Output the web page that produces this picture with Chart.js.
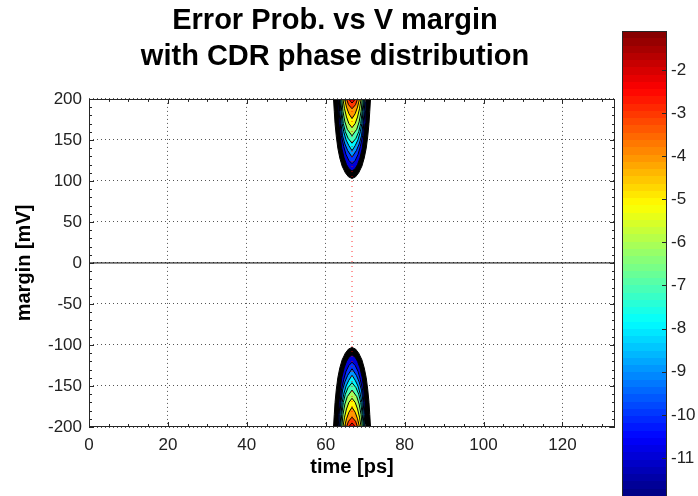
<!DOCTYPE html>
<html>
<head>
<meta charset="utf-8">
<script src="https://cdn.jsdelivr.net/npm/chart.js@4.4.0/dist/chart.umd.min.js"></script>
<style>
  html, body { margin: 0; padding: 0; background: #fff; }
  #wrap { position: relative; width: 698px; height: 496px; overflow: hidden; background: #fff; }
  #main { position: absolute; left: 0; top: 0; }
  #cbar { position: absolute; left: 600px; top: 0; }
</style>
</head>
<body>
<div id="wrap">
  <canvas id="main" width="698" height="496"></canvas>
  <canvas id="cbar" width="98" height="496"></canvas>
</div>
<script>
// axes
const titleLines = ['Error Prob. vs V margin', 'with CDR phase distribution'];
const timeTicks = [0, 20, 40, 60, 80, 100, 120];
const marginTicks = [-200, -150, -100, -50, 0, 50, 100, 150, 200];
const timeRange = [0, 133.33];
const marginRange = [-200, 200];
const cdrPhase = 66.67; // ps, CDR sampling phase (dotted red line)

// colorbar, log10 of error probability
const cbarTicks = [-2, -3, -4, -5, -6, -7, -8, -9, -10, -11];
const cbarRange = [-11.88, -1.1];

// contour levels; -12 is the dense black outline
const contourLevels = [-12, -11, -10, -9, -8, -7, -6, -5, -4, -3, -2];
// upper lobe: [margin mV, half width ps] from 200 mV down to the tip
// (lower lobe is the same at negative margin)
const contourProfiles = [
  [[200, 4.7], [185, 4.5], [170, 4.3], [155, 4.0], [140, 3.6], [128, 3.1], [118, 2.5], [110, 1.7], [105, 0.9], [103, 0]],
  [[200, 3.7], [185, 3.5], [170, 3.3], [155, 3.0], [140, 2.6], [128, 2.0], [120, 1.4], [115, 0.8], [112, 0]],
  [[200, 3.5], [185, 3.3], [170, 3.0], [155, 2.7], [142, 2.1], [132, 1.5], [125, 0.8], [121, 0]],
  [[200, 3.3], [185, 3.1], [170, 2.8], [155, 2.4], [145, 1.8], [137, 1.1], [129, 0]],
  [[200, 3.1], [185, 2.8], [170, 2.5], [160, 2.1], [150, 1.5], [143, 0.8], [137, 0]],
  [[200, 2.9], [185, 2.6], [170, 2.2], [160, 1.7], [152, 1.0], [146, 0]],
  [[200, 2.6], [185, 2.3], [172, 1.8], [163, 1.2], [155, 0]],
  [[200, 2.3], [188, 1.9], [178, 1.4], [170, 0.8], [165, 0]],
  [[200, 1.9], [190, 1.4], [182, 0.8], [176, 0]],
  [[200, 1.4], [193, 0.9], [188, 0]],
  [[200, 0.8], [197, 0.4], [195, 0]]
];

Chart.defaults.font.family = "'Liberation Sans', Arial, sans-serif";
Chart.defaults.color = '#222';

// MATLAB jet colormap, 64 steps
function jetAt(f) {
  const q = (Math.min(63, Math.floor(f * 64)) + 0.5) / 64;
  const ch = k => Math.round(255 * Math.max(0, Math.min(1, 1.5 - Math.abs(4 * q - k))));
  return 'rgb(' + ch(3) + ',' + ch(2) + ',' + ch(1) + ')';
}
function levelColor(lev) {
  if (lev <= -12) return '#000';
  return jetAt((lev - cbarRange[0]) / (cbarRange[1] - cbarRange[0]));
}

// build datasets
const datasets = [];
datasets.push({
  data: [{x: timeRange[0], y: 0}, {x: timeRange[1], y: 0}],
  borderColor: '#000', borderWidth: 1, order: 0
});
datasets.push({
  data: [{x: cdrPhase, y: marginRange[0]}, {x: cdrPhase, y: marginRange[1]}],
  borderColor: 'rgba(255,0,0,0.8)', borderWidth: 1, borderDash: [1, 4], order: 1
});
contourLevels.forEach((lev, i) => {
  const prof = contourProfiles[i];
  [1, -1].forEach(sign => {
    const left = prof.map(p => ({x: cdrPhase - p[1], y: sign * p[0]}));
    const right = prof.slice().reverse().map(p => ({x: cdrPhase + p[1], y: sign * p[0]}));
    right.shift();
    datasets.push({
      data: left.concat(right),
      fill: sign > 0 ? 'end' : 'start',
      backgroundColor: levelColor(lev),
      borderColor: '#000',
      borderWidth: 1,
      order: 100 - i
    });
  });
});

// box + inward ticks like matlab
const matlabAxes = {
  id: 'matlabAxes',
  afterDraw(chart) {
    const {ctx, chartArea: a, scales: {x, y}} = chart;
    ctx.save();
    ctx.strokeStyle = '#262626';
    ctx.lineWidth = 1;
    ctx.beginPath();
    for (let t = 0; t <= timeRange[1]; t += 5) {
      const px = Math.round(x.getPixelForValue(t)) + 0.5;
      const len = t % 20 === 0 ? 5 : 3;
      ctx.moveTo(px, a.bottom); ctx.lineTo(px, a.bottom - len);
      ctx.moveTo(px, a.top); ctx.lineTo(px, a.top + len);
    }
    for (let m = marginRange[0]; m <= marginRange[1]; m += 10) {
      const py = Math.round(y.getPixelForValue(m)) + 0.5;
      const len = m % 50 === 0 ? 5 : 3;
      ctx.moveTo(a.left, py); ctx.lineTo(a.left + len, py);
      ctx.moveTo(a.right, py); ctx.lineTo(a.right - len, py);
    }
    ctx.stroke();
    ctx.strokeRect(Math.round(a.left) + 0.5, Math.round(a.top) + 0.5,
      Math.round(a.right - a.left) - 1, Math.round(a.bottom - a.top) - 1);
    ctx.restore();
  }
};

new Chart(document.getElementById('main'), {
  type: 'scatter',
  data: { datasets: datasets.map(d => Object.assign({showLine: true, pointRadius: 0, tension: 0}, d)) },
  options: {
    responsive: false,
    animation: false,
    layout: { padding: { left: 0, right: 28, top: 0, bottom: 0 } },
    plugins: {
      legend: { display: false },
      tooltip: { enabled: false },
      title: {
        display: true,
        text: titleLines,
        color: '#000',
        font: { size: 29, weight: 'bold', lineHeight: 1.24 },
        padding: { top: 3, bottom: 24 }
      }
    },
    scales: {
      x: {
        type: 'linear',
        min: timeRange[0],
        max: timeRange[1],
        afterBuildTicks: s => { s.ticks = timeTicks.map(v => ({value: v})); },
        afterFit: s => { s.height = 69; },
        grid: { color: '#555', drawTicks: false },
        border: { display: false, dash: [1, 3] },
        ticks: { padding: 8, font: { size: 17 } },
        title: {
          display: true, text: 'time [ps]', color: '#000',
          font: { size: 20, weight: 'bold' },
          padding: { top: 4, bottom: 17 }
        }
      },
      y: {
        type: 'linear',
        min: marginRange[0],
        max: marginRange[1],
        afterBuildTicks: s => { s.ticks = marginTicks.map(v => ({value: v})); },
        afterFit: s => { s.width = 89; },
        grid: { color: '#555', drawTicks: false },
        border: { display: false, dash: [1, 3] },
        ticks: { padding: 7, font: { size: 17 } },
        title: {
          display: true, text: 'margin [mV]', color: '#000',
          font: { size: 20, weight: 'bold' },
          padding: { top: 12, bottom: 0 }
        }
      },
      // empty space kept on the right for the colorbar (keeps the title centred like the original)
      yGap: {
        type: 'linear',
        position: 'right',
        min: marginRange[0],
        max: marginRange[1],
        grid: { display: false, drawTicks: false },
        border: { display: false },
        ticks: { display: false },
        afterFit: s => { s.width = 55; s.paddingTop = 0; s.paddingBottom = 0; }
      }
    }
  },
  plugins: [matlabAxes]
});

// colorbar
function jetGradient(chart) {
  const a = chart.chartArea;
  if (!a || !isFinite(a.top) || !isFinite(a.bottom)) return 'rgba(0,0,0,0)';
  const g = chart.ctx.createLinearGradient(0, a.bottom, 0, a.top);
  for (let i = 0; i < 64; i++) {
    const c = jetAt((i + 0.5) / 64);
    g.addColorStop(i / 64, c);
    g.addColorStop((i + 1) / 64, c);
  }
  return g;
}

const cbarFrame = {
  id: 'cbarFrame',
  afterDraw(chart) {
    const {ctx, chartArea: a, scales: {y}} = chart;
    ctx.save();
    ctx.strokeStyle = '#262626';
    ctx.lineWidth = 1;
    ctx.beginPath();
    cbarTicks.forEach(v => {
      const py = Math.round(y.getPixelForValue(v)) + 0.5;
      ctx.moveTo(a.right, py); ctx.lineTo(a.right - 5, py);
    });
    ctx.stroke();
    ctx.strokeRect(Math.round(a.left) + 0.5, Math.round(a.top) + 0.5,
      Math.round(a.right - a.left) - 1, Math.round(a.bottom - a.top) + 2);
    ctx.restore();
  }
};

new Chart(document.getElementById('cbar'), {
  type: 'bar',
  data: {
    labels: [''],
    datasets: [{
      data: [cbarRange],
      backgroundColor: c => jetGradient(c.chart),
      borderWidth: 0,
      barPercentage: 1,
      categoryPercentage: 1
    }]
  },
  options: {
    responsive: false,
    animation: false,
    layout: { padding: { left: 22, top: 31, right: 0, bottom: 0 } },
    plugins: { legend: { display: false }, tooltip: { enabled: false } },
    scales: {
      x: { display: false },
      y: {
        position: 'right',
        min: cbarRange[0],
        max: cbarRange[1],
        afterBuildTicks: s => { s.ticks = cbarTicks.map(v => ({value: v})); },
        afterFit: s => { s.width = 31; s.paddingTop = 0; s.paddingBottom = 0; },
        grid: { display: false, drawTicks: false },
        border: { display: false },
        ticks: { padding: 4, font: { size: 17 } }
      }
    }
  },
  plugins: [cbarFrame]
});
</script>
</body>
</html>
